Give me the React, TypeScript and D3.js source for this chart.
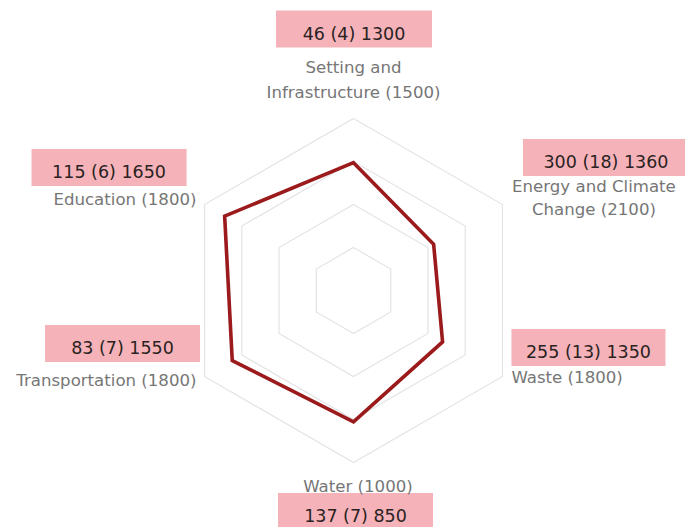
import React from "react";
import * as d3 from "d3";

const categories = [
  ["Setting and", "Infrastructure (1500)"],
  ["Energy and Climate", "Change (2100)"],
  ["Waste (1800)"],
  ["Water (1000)"],
  ["Transportation (1800)"],
  ["Education (1800)"],
];
const boxLabels = [
  "46 (4) 1300",
  "300 (18) 1360",
  "255 (13) 1350",
  "137 (7) 850",
  "83 (7) 1550",
  "115 (6) 1650",
];
// plotted score (percent of scale)
const scores = [74.3, 53.8, 59.8, 76.3, 81.4, 86.5];
const gridLevels = [25, 50, 75, 100];

// layout for each label relative to its outer vertex
const labelLayout = [
  { anchor: "middle", dx: 0, dy: -45.5, lineGap: 25, boxDx: -77.5, boxDy: -108, boxW: 156 },
  { anchor: "middle", dx: 91.5, dy: -13, lineGap: 23.5, boxDx: 20.5, boxDy: -65.5, boxW: 166 },
  { anchor: "start", dx: 9, dy: 6.5, lineGap: 0, boxDx: 9, boxDy: -47.5, boxW: 154 },
  { anchor: "middle", dx: 4.5, dy: 29, lineGap: 0, boxDx: -75.5, boxDy: 30.5, boxW: 155 },
  { anchor: "end", dx: -8, dy: 9, lineGap: 0, boxDx: -159.5, boxDy: -51.5, boxW: 155 },
  { anchor: "end", dx: -8, dy: 0.5, lineGap: 0, boxDx: -173, boxDy: -55.5, boxW: 155 },
];

const W = 685;
const H = 527;
const cx = 353.5;
const cy = 290.5;
const R = 172;
const BOX_H = 37;

export default function App() {
  const n = categories.length;
  const angle = d3
    .scaleLinear()
    .domain([0, n])
    .range([0, 2 * Math.PI]);
  const r = d3.scaleLinear().domain([0, 100]).range([0, R]);

  const pt = (i: number, v: number): [number, number] => {
    const a = angle(i) - Math.PI / 2;
    return [cx + r(v) * Math.cos(a), cy + r(v) * Math.sin(a)];
  };

  const line = d3
    .line<[number, number]>()
    .x((d) => d[0])
    .y((d) => d[1])
    .curve(d3.curveLinearClosed);

  const gridPaths = gridLevels.map((lv) =>
    line(d3.range(n).map((i) => pt(i, lv)))
  );
  const dataPath = line(scores.map((s, i) => pt(i, s)));

  const font = "DejaVu Sans, Verdana, sans-serif";

  return (
    <svg
      width={W}
      height={H}
      style={{ position: "absolute", left: 0, top: 0, background: "#fff" }}
    >
      <g>
        {gridPaths.map((p, i) => (
          <path key={i} d={p || ""} fill="none" stroke="#e4e4e4" strokeWidth={1.2} />
        ))}
      </g>
      <path
        d={dataPath || ""}
        fill="none"
        stroke="#9b1a1c"
        strokeWidth={3.6}
        strokeLinejoin="miter"
      />
      {categories.map((lines, i) => {
        const [vx, vy] = pt(i, 100);
        const L = labelLayout[i];
        const bx = vx + L.boxDx;
        const by = vy + L.boxDy;
        return (
          <g key={i}>
            <rect x={bx} y={by} width={L.boxW} height={BOX_H} fill="#f5b3b9" />
            <text
              x={bx + L.boxW / 2}
              y={by + 29}
              textAnchor="middle"
              fontFamily={font}
              fontSize={17.5}
              fill="#2a2222"
            >
              {boxLabels[i]}
            </text>
            {lines.map((ln, j) => (
              <text
                key={j}
                x={vx + L.dx}
                y={vy + L.dy + j * L.lineGap}
                textAnchor={L.anchor as any}
                fontFamily={font}
                fontSize={16.6}
                fill="#767676"
              >
                {ln}
              </text>
            ))}
          </g>
        );
      })}
    </svg>
  );
}
